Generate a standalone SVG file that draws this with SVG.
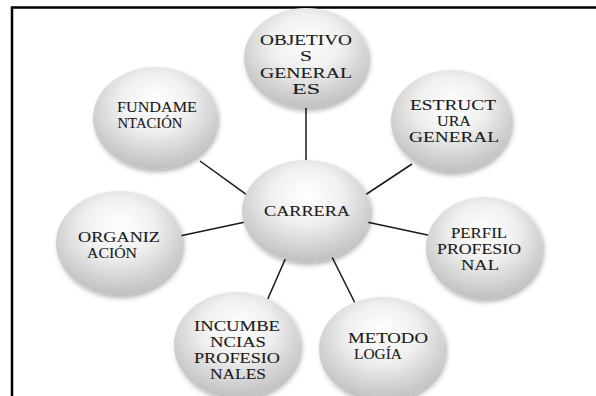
<svg xmlns="http://www.w3.org/2000/svg" width="596" height="396" viewBox="0 0 596 396">
<defs>
<radialGradient id="g" cx="50%" cy="38%" r="62%" fx="50%" fy="32%">
<stop offset="0" stop-color="#ffffff"/>
<stop offset="0.45" stop-color="#f0f0f0"/>
<stop offset="1" stop-color="#c0c0c0"/>
</radialGradient>
<filter id="sh" x="-20%" y="-20%" width="145%" height="150%">
<feDropShadow dx="2" dy="3" stdDeviation="2.5" flood-color="#000" flood-opacity="0.3"/>
</filter>
</defs>
<style>
.n{fill:url(#g);filter:url(#sh)}
.t{font-family:"Liberation Serif","Times New Roman",serif;font-size:14.5px;fill:#1a1a1a;stroke:#1a1a1a;stroke-width:0.1;text-anchor:middle}
.c{stroke:#1a1a1a;stroke-width:1.5;fill:none}
</style>
<rect width="596" height="396" fill="#fff"/>
<path d="M12,396 V7.5 H596" fill="none" stroke="#000" stroke-width="2.5"/>
<g id="connectors" class="c">
<line x1="306" y1="100" x2="306" y2="170"/>
<line x1="200" y1="161" x2="265" y2="208"/>
<line x1="412" y1="164" x2="350" y2="205"/>
<line x1="175" y1="237" x2="250" y2="221"/>
<line x1="362" y1="221" x2="437" y2="237"/>
<line x1="287" y1="255" x2="259" y2="319"/>
<line x1="331" y1="255" x2="363" y2="319"/>
</g>
<g id="objetivos">
<ellipse class="n" cx="306" cy="58" rx="62" ry="50"/>
<text class="t" x="306" y="45" textLength="92" lengthAdjust="spacingAndGlyphs">OBJETIVO</text>
<text class="t" x="306" y="61" textLength="12" lengthAdjust="spacingAndGlyphs">S</text>
<text class="t" x="306" y="78" textLength="92" lengthAdjust="spacingAndGlyphs">GENERAL</text>
<text class="t" x="306" y="94" textLength="28" lengthAdjust="spacingAndGlyphs">ES</text>
</g>
<g id="fundamentacion">
<ellipse class="n" cx="155" cy="118" rx="62" ry="51"/>
<text class="t" x="157" y="112" textLength="80" lengthAdjust="spacingAndGlyphs">FUNDAME</text>
<text class="t" x="150" y="128" textLength="65" lengthAdjust="spacingAndGlyphs">NTACIÓN</text>
</g>
<g id="estructura">
<ellipse class="n" cx="451" cy="121" rx="60" ry="51"/>
<text class="t" x="453" y="110" textLength="86" lengthAdjust="spacingAndGlyphs">ESTRUCT</text>
<text class="t" x="454" y="126" textLength="34" lengthAdjust="spacingAndGlyphs">URA</text>
<text class="t" x="454" y="142" textLength="90" lengthAdjust="spacingAndGlyphs">GENERAL</text>
</g>
<g id="carrera">
<ellipse class="n" cx="306" cy="211" rx="64" ry="51"/>
<text class="t" x="307" y="216" textLength="86" lengthAdjust="spacingAndGlyphs">CARRERA</text>
</g>
<g id="organizacion">
<ellipse class="n" cx="119" cy="243" rx="63" ry="52"/>
<text class="t" x="119" y="242" textLength="82" lengthAdjust="spacingAndGlyphs">ORGANIZ</text>
<text class="t" x="112" y="258" textLength="50" lengthAdjust="spacingAndGlyphs">ACIÓN</text>
</g>
<g id="perfil">
<ellipse class="n" cx="484" cy="248" rx="58" ry="51"/>
<text class="t" x="479" y="238" textLength="56" lengthAdjust="spacingAndGlyphs">PERFIL</text>
<text class="t" x="479" y="254" textLength="84" lengthAdjust="spacingAndGlyphs">PROFESIO</text>
<text class="t" x="480" y="270" textLength="38" lengthAdjust="spacingAndGlyphs">NAL</text>
</g>
<g id="incumbencias">
<ellipse class="n" cx="237" cy="345" rx="63" ry="53"/>
<text class="t" x="237" y="331" textLength="86" lengthAdjust="spacingAndGlyphs">INCUMBE</text>
<text class="t" x="238" y="347" textLength="56" lengthAdjust="spacingAndGlyphs">NCIAS</text>
<text class="t" x="237" y="363" textLength="86" lengthAdjust="spacingAndGlyphs">PROFESIO</text>
<text class="t" x="238" y="379" textLength="56" lengthAdjust="spacingAndGlyphs">NALES</text>
</g>
<g id="metodologia">
<ellipse class="n" cx="382" cy="349" rx="63" ry="52"/>
<text class="t" x="388" y="343" textLength="80" lengthAdjust="spacingAndGlyphs">METODO</text>
<text class="t" x="378" y="359" textLength="48" lengthAdjust="spacingAndGlyphs">LOGÍA</text>
</g>
</svg>
